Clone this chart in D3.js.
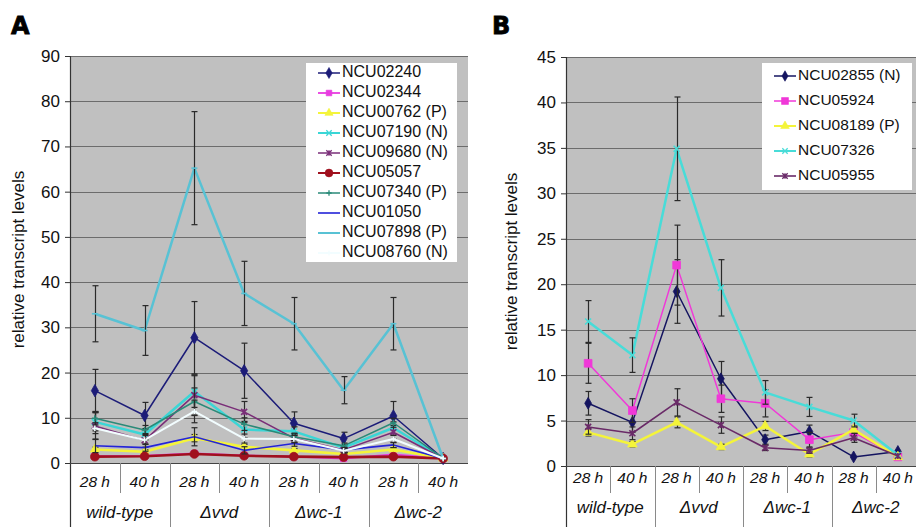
<!DOCTYPE html>
<html>
<head>
<meta charset="utf-8">
<script src="https://cdn.jsdelivr.net/npm/d3@7"></script>
<style>
  html, body { margin: 0; padding: 0; background: #fff; }
  svg { display: block; font-family: "Liberation Sans", Arial, sans-serif; }
</style>
</head>
<body>
<svg id="chart" width="916" height="527"></svg>
<script>
// ---- data -------------------------------------------------------------
const strains = ["wild-type", "Δvvd", "Δwc-1", "Δwc-2"];
const times = ["28 h", "40 h"];

const ticksA = [0, 10, 20, 30, 40, 50, 60, 70, 80, 90];
const ticksB = [0, 5, 10, 15, 20, 25, 30, 35, 40, 45];

// panel A genes
const namesA = ["NCU02240", "NCU02344", "NCU00762 (P)", "NCU07190 (N)", "NCU09680 (N)",
                "NCU05057", "NCU07340 (P)", "NCU01050", "NCU07898 (P)", "NCU08760 (N)"];
const valuesA = [
  [16.0, 10.5, 27.7, 20.4, 8.8, 5.4, 10.4, 1.0],
  [1.5, 1.6, 2.1, 1.7, 1.4, 1.0, 1.9, 1.0],
  [3.0, 2.5, 5.5, 3.6, 2.8, 2.0, 3.0, 1.0],
  [9.1, 6.3, 15.8, 7.4, 7.0, 3.4, 7.8, 1.0],
  [8.2, 5.0, 15.0, 11.3, 5.5, 2.9, 6.8, 1.0],
  [1.4, 1.5, 2.0, 1.6, 1.4, 1.3, 1.4, 1.0],
  [9.9, 7.3, 13.6, 8.6, 5.8, 3.8, 8.9, 1.0],
  [3.8, 3.4, 5.8, 2.8, 4.3, 2.9, 4.0, 1.0],
  [33.0, 29.3, 65.2, 37.5, 30.8, 16.1, 30.8, 1.0],
  [7.7, 5.1, 11.4, 5.4, 5.3, 2.7, 5.3, 1.0]
];
const errorsA = [
  [4.7, 2.9, 8.0, 6.1, 2.5, 1.4, 3.2, 0],
  null,
  [0.5, 0.4, 0.8, 0.5, 0.4, 0.3, 0.4, 0],
  [2.0, 1.2, 3.5, 1.8, 1.0, 0.6, 1.3, 0],
  [3.0, 1.5, 4.5, 2.3, 1.0, 0.6, 1.5, 0],
  null,
  [1.5, 1.0, 3.0, 1.4, 0.8, 0.6, 1.0, 0],
  [1.5, 0.8, 2.0, 0.8, 0.6, 0.5, 0.6, 0],
  [6.2, 5.5, 12.5, 7.1, 5.8, 3.0, 5.8, 0],
  [1.2, 1.0, 2.5, 1.0, 0.8, 0.5, 0.8, 0]
];

// panel B genes
const namesB = ["NCU02855 (N)", "NCU05924", "NCU08189 (P)", "NCU07326", "NCU05955"];
const valuesB = [
  [6.9, 4.8, 19.2, 9.6, 2.9, 3.8, 1.0, 1.6],
  [11.3, 6.1, 22.1, 7.4, 6.9, 2.9, 3.7, 1.0],
  [3.7, 2.4, 4.8, 2.1, 4.4, 1.3, 4.0, 1.0],
  [15.9, 12.2, 34.9, 19.6, 8.1, 6.5, 5.0, 1.2],
  [4.3, 3.6, 7.0, 4.5, 2.0, 1.7, 3.1, 1.1]
];
const errorsB = [
  [1.3, 1.1, 3.5, 1.9, 0.5, 0.7, 0, 0],
  [2.2, 1.3, 4.4, 1.5, 1.5, 0.8, 0.5, 0],
  [0.4, 0.3, 0.6, 0.3, 0.5, 0.3, 0.4, 0],
  [2.3, 1.9, 5.7, 3.1, 1.3, 1.05, 0.7, 0],
  [0.8, 0.7, 1.5, 0.9, 0.3, 0.3, 0.5, 0]
];

// ---- marker shapes -------------------------------------------------------
const symTimes = { draw(ctx, size) { const r = Math.sqrt(size) / 2;
  ctx.moveTo(-r, -r); ctx.lineTo(r, r); ctx.moveTo(r, -r); ctx.lineTo(-r, r); } };
const symPlus = { draw(ctx, size) { const r = Math.sqrt(size) / 2;
  ctx.moveTo(-r, 0); ctx.lineTo(r, 0); ctx.moveTo(0, -r); ctx.lineTo(0, r); } };
const symStar = { draw(ctx, size) { const r = Math.sqrt(size) / 2;
  ctx.moveTo(-r, -r); ctx.lineTo(r, r); ctx.moveTo(r, -r); ctx.lineTo(-r, r);
  ctx.moveTo(0, -r); ctx.lineTo(0, r); } };
const symDash = { draw(ctx, size) { const r = Math.sqrt(size) / 2;
  ctx.moveTo(-r, 0); ctx.lineTo(r, 0); } };

// per-series styles (Excel palette order)
const styleA = [
  { color: "#1c1c78", width: 1.5, sym: d3.symbolDiamond, size: 44, fill: true },
  { color: "#e83ce0", width: 1.8, sym: d3.symbolSquare, size: 40, fill: true },
  { color: "#f4f43a", width: 2.6, sym: d3.symbolTriangle, size: 36, fill: true },
  { color: "#3ad6d6", width: 2.5, sym: symTimes, size: 36, fill: false },
  { color: "#7a2e78", width: 1.5, sym: symStar, size: 36, fill: false },
  { color: "#a0101e", width: 2.6, sym: d3.symbolCircle, size: 60, fill: true },
  { color: "#2a8a78", width: 1.5, sym: symPlus, size: 36, fill: false },
  { color: "#2424d8", width: 1.6, sym: null },
  { color: "#58c2d4", width: 2.5, sym: symDash, size: 36, fill: false },
  { color: "#f2fdff", width: 2.0, sym: symPlus, size: 30, fill: false }
];
const styleB = [
  { color: "#141460", width: 1.5, sym: d3.symbolDiamond, size: 40, fill: true },
  { color: "#f038d8", width: 1.5, sym: d3.symbolSquare, size: 60, fill: true },
  { color: "#f4f43a", width: 2.5, sym: d3.symbolTriangle, size: 40, fill: true },
  { color: "#48dcd8", width: 2.5, sym: symTimes, size: 36, fill: false },
  { color: "#6a2a68", width: 1.6, sym: symStar, size: 36, fill: false }
];

const categories = [];
strains.forEach(s => times.forEach(t => categories.push(s + "|" + t)));

const svg = d3.select("#chart");
const FONT = "'Liberation Sans', Arial, sans-serif";

function drawPanel(cfg) {
  const g = svg.append("g");
  const x = d3.scaleBand().domain(categories).range([cfg.left, cfg.right]);
  const y = d3.scaleLinear().domain([0, d3.max(cfg.ticks)]).range([cfg.bottom, cfg.top]);

  // plot area
  g.append("rect")
    .attr("x", cfg.left).attr("y", cfg.top)
    .attr("width", cfg.right - cfg.left).attr("height", cfg.bottom - cfg.top)
    .attr("fill", "#c0c0c0");

  // gridlines
  g.append("g").selectAll("line").data(cfg.ticks.slice(1)).join("line")
    .attr("x1", cfg.left).attr("x2", cfg.right)
    .attr("y1", d => Math.round(y(d)) + 0.5).attr("y2", d => Math.round(y(d)) + 0.5)
    .attr("stroke", "#6c6c6c").attr("stroke-width", 1);

  // y axis
  const yAxis = d3.axisLeft(y).tickValues(cfg.ticks).tickSize(5).tickPadding(5).tickFormat(d3.format("d"));
  const ya = g.append("g").attr("transform", `translate(${cfg.left},0)`).call(yAxis);
  ya.select(".domain").remove();
  ya.selectAll(".tick line").attr("stroke", "#333");
  ya.selectAll(".tick text").attr("font-size", 17).attr("font-family", FONT).attr("fill", "#111");
  g.append("line").attr("x1", cfg.left + 0.5).attr("x2", cfg.left + 0.5)
    .attr("y1", cfg.top).attr("y2", 527).attr("stroke", "#333").attr("stroke-width", 1.2);

  // y title
  g.append("text")
    .attr("transform", `translate(${cfg.ylabelX},${(cfg.top + cfg.bottom) / 2}) rotate(-90)`)
    .attr("text-anchor", "middle").attr("dominant-baseline", "middle")
    .attr("font-size", 17).attr("font-family", FONT).attr("fill", "#111")
    .text("relative transcript levels");

  // x axis (two-row category table)
  g.append("line").attr("x1", cfg.left).attr("x2", cfg.right)
    .attr("y1", cfg.bottom + 0.5).attr("y2", cfg.bottom + 0.5)
    .attr("stroke", "#444").attr("stroke-width", 1.2);
  const bw = x.bandwidth();
  categories.forEach((c, i) => {
    if (i === 0) return;
    const xx = Math.round(x(c)) + 0.5;
    const groupEdge = i % 2 === 0;
    g.append("line").attr("x1", xx).attr("x2", xx)
      .attr("y1", cfg.bottom).attr("y2", groupEdge ? 527 : cfg.row1Bottom)
      .attr("stroke", "#8a8a8a").attr("stroke-width", 1);
  });
  g.append("g").selectAll("text").data(categories).join("text")
    .attr("x", d => x(d) + bw / 2).attr("y", cfg.row1Y)
    .attr("text-anchor", "middle").attr("dominant-baseline", "middle")
    .attr("font-size", 15.5).attr("font-style", "italic").attr("font-family", FONT).attr("fill", "#111")
    .text(d => d.split("|")[1]);
  g.append("g").selectAll("text").data(strains).join("text")
    .attr("x", d => x(d + "|" + times[0]) + bw)
    .attr("y", cfg.row2Y)
    .attr("text-anchor", "middle").attr("dominant-baseline", "middle")
    .attr("font-size", 17).attr("font-style", "italic").attr("font-family", FONT).attr("fill", "#111")
    .text(d => d);

  // series
  const cx = c => x(c) + bw / 2;
  const line = d3.line().x((d, i) => cx(categories[i])).y(d => y(d));
  cfg.values.forEach((vals, si) => {
    const st = cfg.styles[si];
    const sg = g.append("g");
    sg.append("path").attr("d", line(vals)).attr("fill", "none")
      .attr("stroke", st.color).attr("stroke-width", st.width).attr("stroke-linejoin", "round");
    const errs = cfg.errors[si];
    if (errs) {
      vals.forEach((v, i) => {
        const e = errs[i];
        if (!e) return;
        const px = Math.round(cx(categories[i])) + 0.5;
        const eg = sg.append("g").attr("stroke", "#2a2a2a").attr("stroke-width", 1.2);
        eg.append("line").attr("x1", px).attr("x2", px).attr("y1", y(v - e)).attr("y2", y(v + e));
        eg.append("line").attr("x1", px - 3).attr("x2", px + 3).attr("y1", y(v + e)).attr("y2", y(v + e));
        eg.append("line").attr("x1", px - 3).attr("x2", px + 3).attr("y1", y(v - e)).attr("y2", y(v - e));
      });
    }
    if (st.sym) {
      const sym = d3.symbol().type(st.sym).size(st.size);
      sg.selectAll("path.m").data(vals).join("path").attr("class", "m")
        .attr("transform", (d, i) => `translate(${cx(categories[i])},${y(d)})`)
        .attr("d", sym)
        .attr("fill", st.fill ? st.color : "none")
        .attr("stroke", st.color).attr("stroke-width", st.fill ? 0.8 : 1.6);
    }
  });

  // legend
  const lg = g.append("g");
  lg.append("rect").attr("x", cfg.legend.x).attr("y", cfg.legend.y)
    .attr("width", cfg.legend.w).attr("height", cfg.legend.h).attr("fill", "#fff");
  cfg.names.forEach((n, i) => {
    const st = cfg.styles[i];
    const ly = cfg.legend.y + cfg.legend.first + i * cfg.legend.step;
    const x0 = cfg.legend.x + 12, x1 = x0 + 22;
    lg.append("line").attr("x1", x0).attr("x2", x1).attr("y1", ly).attr("y2", ly)
      .attr("stroke", st.color).attr("stroke-width", Math.min(st.width, 2));
    if (st.sym) {
      lg.append("path").attr("transform", `translate(${(x0 + x1) / 2},${ly})`)
        .attr("d", d3.symbol().type(st.sym).size(st.size * 0.8))
        .attr("fill", st.fill ? st.color : "none")
        .attr("stroke", st.color).attr("stroke-width", st.fill ? 0.6 : 1.3);
    }
    lg.append("text").attr("x", x1 + 2).attr("y", ly)
      .attr("dominant-baseline", "middle")
      .attr("font-size", cfg.legend.font).attr("font-family", FONT).attr("fill", "#111")
      .text(n);
  });

  // panel letter
  g.append("text").attr("x", cfg.letter[0]).attr("y", cfg.letter[1])
    .attr("font-size", 24).attr("font-weight", 900).attr("font-family", "'DejaVu Sans', " + FONT)
    .attr("fill", "#000").attr("stroke", "#000").attr("stroke-width", 0.8)
    .text(cfg.letterText);
}

drawPanel({
  left: 70, right: 468, top: 56, bottom: 463,
  row1Bottom: 493, row1Y: 483, row2Y: 514, ylabelX: 20,
  ticks: ticksA, values: valuesA, errors: errorsA, styles: styleA, names: namesA,
  legend: { x: 306, y: 63, w: 151, h: 199, first: 10, step: 20, font: 16 },
  letter: [11, 34], letterText: "A"
});

drawPanel({
  left: 566, right: 920, top: 57, bottom: 466,
  row1Bottom: 493, row1Y: 479, row2Y: 509, ylabelX: 513,
  ticks: ticksB, values: valuesB, errors: errorsB, styles: styleB, names: namesB,
  legend: { x: 762, y: 63, w: 150, h: 127, first: 13, step: 25, font: 15.5 },
  letter: [492, 34], letterText: "B"
});
</script>
</body>
</html>
